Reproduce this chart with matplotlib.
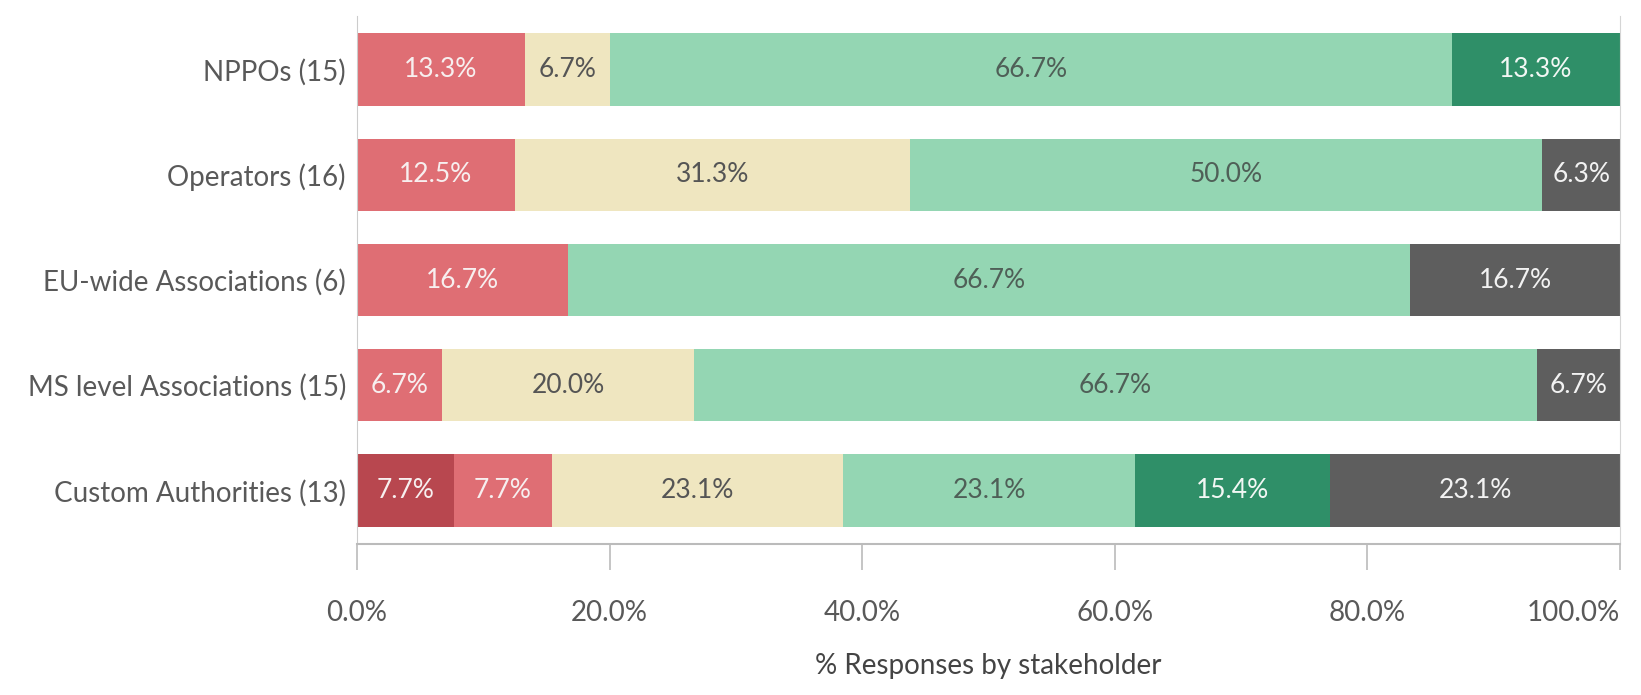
import matplotlib
matplotlib.use("Agg")
import matplotlib.pyplot as plt
import numpy as np

plt.rcParams['font.family'] = ['Lato', 'DejaVu Sans']

stakeholders = ["NPPOs (15)", "Operators (16)", "EU-wide Associations (6)",
                "MS level Associations (15)", "Custom Authorities (13)"]
categories = ["Strongly disagree", "Disagree", "Neutral", "Agree", "Strongly agree", "Don't know"]
strongly_disagree = [0.0, 0.0, 0.0, 0.0, 7.7]
disagree = [13.3, 12.5, 16.7, 6.7, 7.7]
neutral = [6.7, 31.3, 0.0, 20.0, 23.1]
agree = [66.7, 50.0, 66.7, 66.7, 23.1]
strongly_agree = [13.3, 0.0, 0.0, 0.0, 15.4]
dont_know = [0.0, 6.3, 16.7, 6.7, 23.1]
xticks = [0, 20, 40, 60, 80, 100]

series = [strongly_disagree, disagree, neutral, agree, strongly_agree, dont_know]
colors = ["#b8474f", "#df6e74", "#efe6c0", "#94d6b3", "#2f8f68", "#5e5e5e"]
text_colors = ["#f7efef", "#f7efef", "#555555", "#4f5f57", "#f2f7f4", "#f2f2f2"]

fig = plt.figure(figsize=(16.41, 6.95), dpi=100)
ax = fig.add_axes([357/1641, 1-544/695, (1620-357)/1641, (544-16)/695])

y = np.arange(len(stakeholders))
left = np.zeros(len(stakeholders))
for vals, c, tc in zip(series, colors, text_colors):
    vals = np.array(vals)
    ax.barh(y, vals, left=left, height=0.69, color=c, edgecolor='none')
    for yi, v, l in zip(y, vals, left):
        if v > 0:
            ax.text(l + v/2, yi, f"{v:.1f}%", ha='center', va='center',
                    color=tc, fontsize=19)
    left = left + vals

ax.set_xlim(0, 100)
ax.set_ylim(4.51, -0.51)
ax.set_yticks(y)
ax.set_yticklabels(stakeholders, fontsize=20, color="#595959")
ax.set_xticks(xticks)
ax.set_xticklabels([f"{t:.1f}%" for t in xticks], fontsize=20, color="#595959")
ax.get_xticklabels()[-1].set_horizontalalignment('right')
ax.tick_params(axis='y', length=0, pad=8)
ax.tick_params(axis='x', length=19, width=1.2, color="#bbbbbb", pad=21)
ax.set_xlabel("% Responses by stakeholder", fontsize=20, color="#444444", labelpad=20)

ax.spines['top'].set_visible(False)
ax.spines['left'].set_color("#cccccc")
ax.spines['right'].set_color("#d5d5d5")
ax.spines['bottom'].set_color("#bbbbbb")
ax.spines['bottom'].set_linewidth(1.5)

fig.savefig("out.png", dpi=100, facecolor='white')
